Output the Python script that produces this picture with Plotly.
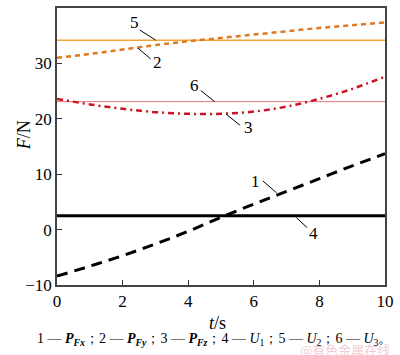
import plotly.graph_objects as go

t = [0, 1, 2, 3, 4, 5, 6, 7, 8, 9, 10]
P_Fx = [-8.4, -6.6, -4.7, -2.6, -0.3, 2.2, 4.6, 6.9, 9.2, 11.5, 13.7]
P_Fy = [31.0, 31.7, 32.5, 33.3, 34.0, 34.6, 35.2, 35.8, 36.4, 36.9, 37.4]
P_Fz = [23.6, 22.6, 21.8, 21.2, 20.9, 20.9, 21.3, 22.2, 23.6, 25.4, 27.6]
U1 = 2.5
U2 = 34.2
U3 = 23.1

x_ticks = [0, 2, 4, 6, 8, 10]
y_ticks = [-10, 0, 10, 20, 30, 40]

FONT = "Liberation Serif, Times New Roman, serif"

fig = go.Figure()
fig.add_trace(go.Scatter(x=t, y=[U2] * len(t), mode="lines",
                         line=dict(color="#F2A33A", width=1.5)))
fig.add_trace(go.Scatter(x=t, y=P_Fy, mode="lines", line_shape="spline",
                         line=dict(color="#DE7A22", width=2.5, dash="5px,4px")))
fig.add_trace(go.Scatter(x=t, y=[U3] * len(t), mode="lines",
                         line=dict(color="#E27A7A", width=1)))
fig.add_trace(go.Scatter(x=t, y=P_Fz, mode="lines", line_shape="spline",
                         line=dict(color="#CC1424", width=2.5, dash="6px,4px,2px,4px")))
fig.add_trace(go.Scatter(x=t, y=[U1] * len(t), mode="lines",
                         line=dict(color="#000000", width=3)))
fig.add_trace(go.Scatter(x=t, y=P_Fx, mode="lines", line_shape="spline",
                         line=dict(color="#000000", width=3, dash="11px,7px")))


def px2x(p):
    return (p - 57) / 33.3


def px2y(p):
    return (229 - p) / 5.58


labels = [
    ("5", 136, 20, (141, 28), (157, 38)),
    ("2", 159, 61, (139, 46), (152, 57)),
    ("6", 197, 84, (203, 89), (217, 100)),
    ("3", 251, 126, (229, 113), (243, 124)),
    ("1", 259, 181, (266, 180), (280, 192)),
    ("4", 317, 233, (300, 217), (311, 227)),
]
for txt, lx, ly, p0, p1 in labels:
    fig.add_shape(type="line", x0=px2x(p0[0]), y0=px2y(p0[1]), x1=px2x(p1[0]), y1=px2y(p1[1]),
                  line=dict(color="#000000", width=1))
    fig.add_annotation(x=px2x(lx), y=px2y(ly), text=txt, showarrow=False,
                       font=dict(family=FONT, size=17, color="#000000"))

fig.add_annotation(xref="paper", yref="paper", x=0.49, y=-0.095, yanchor="top",
                   text="<i>t</i>/s", showarrow=False,
                   font=dict(family=FONT, size=18, color="#000000"))
fig.add_annotation(xref="paper", yref="paper", x=-0.135, y=0.54, textangle=-90,
                   text="<i>F</i>/N", showarrow=False,
                   font=dict(family=FONT, size=18, color="#000000"))
caption = ("1 — <b><i>P</i></b><sub><b><i>Fx</i></b></sub>；2 — <b><i>P</i></b><sub><b><i>Fy</i></b></sub>；"
           "3 — <b><i>P</i></b><sub><b><i>Fz</i></b></sub>；4 — <i>U</i><sub>1</sub>；"
           "5 — <i>U</i><sub>2</sub>；6 — <i>U</i><sub>3</sub>。")
fig.add_annotation(xref="paper", yref="paper", x=0.48, y=-0.16, yanchor="top",
                   xanchor="center", text=caption, showarrow=False,
                   font=dict(family=FONT, size=14, color="#000000"))
fig.add_annotation(xref="paper", yref="paper", x=1.02, y=-0.19, yanchor="top",
                   xanchor="right", text="@有色金属在线", showarrow=False,
                   font=dict(family="Noto Sans CJK SC", size=13, color="rgba(230,150,160,0.5)"))

axis_common = dict(showgrid=False, zeroline=False, ticks="inside", ticklen=5,
                   tickwidth=1.2, tickcolor="#333333", showline=True, linewidth=1.5,
                   linecolor="#444444", mirror=True,
                   tickfont=dict(family=FONT, size=17, color="#000000"))
fig.update_xaxes(range=[0, 10], tickvals=x_ticks, ticktext=[str(v) for v in x_ticks], **axis_common)
fig.update_yaxes(range=[-10, 40], tickvals=y_ticks,
                 ticktext=["−10" if v < 0 else str(v) for v in y_ticks], **axis_common)

fig.update_layout(width=400, height=355, showlegend=False,
                  margin=dict(l=57, r=10, t=6, b=70),
                  plot_bgcolor="#ffffff", paper_bgcolor="#ffffff")
fig.write_html("out.html", config={"displayModeBar": False},
               post_script="document.body.style.margin='0px';")
